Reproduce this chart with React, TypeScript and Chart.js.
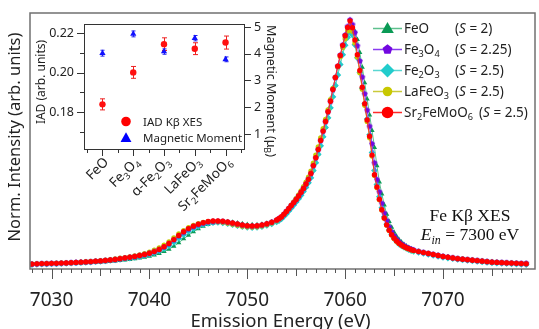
import React, { useEffect, useRef } from "react";
import { Chart, registerables } from "chart.js";
Chart.register(...registerables);

// ---------- main spectrum data ----------
const energy = [
  7028, 7028.5, 7029, 7029.5, 7030, 7030.5, 7031, 7031.5, 7032, 7032.5,
  7033, 7033.5, 7034, 7034.5, 7035, 7035.5, 7036, 7036.5, 7037, 7037.5,
  7038, 7038.5, 7039, 7039.5, 7040, 7040.5, 7041, 7041.5, 7042, 7042.5,
  7043, 7043.5, 7044, 7044.5, 7045, 7045.5, 7046, 7046.5, 7047, 7047.5,
  7048, 7048.5, 7049, 7049.5, 7050, 7050.5, 7051, 7051.5, 7052, 7052.5,
  7053,
  7053.25, 7053.5, 7053.75, 7054, 7054.25, 7054.5, 7054.75, 7055, 7055.25, 7055.5,
  7055.75, 7056, 7056.25, 7056.5, 7056.75, 7057, 7057.25, 7057.5, 7057.75, 7058,
  7058.25, 7058.5, 7058.75, 7059, 7059.25, 7059.5, 7059.75, 7060, 7060.25, 7060.5,
  7060.75, 7061, 7061.25, 7061.5, 7061.75, 7062, 7062.25, 7062.5, 7062.75, 7063,
  7063.25, 7063.5, 7063.75, 7064, 7064.25, 7064.5, 7064.75, 7065, 7065.25, 7065.5,
  7065.75, 7066, 7066.25, 7066.5, 7066.75, 7067,
  7067.5, 7068, 7068.5, 7069, 7069.5, 7070, 7070.5, 7071, 7071.5, 7072,
  7072.5, 7073, 7073.5, 7074, 7074.5, 7075, 7075.5, 7076, 7076.5, 7077,
  7077.5, 7078, 7078.5,
];

const sr2FeMoO6 = [
  0.000, 0.001, 0.002, 0.002, 0.003, 0.003, 0.004, 0.005, 0.006, 0.007,
  0.008, 0.009, 0.010, 0.012, 0.013, 0.015, 0.017, 0.019, 0.022, 0.025,
  0.028, 0.031, 0.035, 0.039, 0.044, 0.051, 0.060, 0.071, 0.084, 0.100,
  0.117, 0.132, 0.145, 0.155, 0.163, 0.169, 0.174, 0.176, 0.176, 0.175,
  0.172, 0.168, 0.164, 0.160, 0.157, 0.156, 0.157, 0.160, 0.165, 0.171,
  0.180,
  0.186, 0.193, 0.204, 0.215, 0.227, 0.239, 0.251, 0.264, 0.278, 0.293,
  0.309, 0.327, 0.346, 0.370, 0.402, 0.434, 0.468, 0.505, 0.543, 0.582,
  0.622, 0.665, 0.713, 0.762, 0.808, 0.852, 0.893, 0.932, 0.966, 0.993,
  0.965, 0.915, 0.855, 0.790, 0.722, 0.655, 0.588, 0.522, 0.445, 0.365,
  0.315, 0.265, 0.222, 0.188, 0.160, 0.138, 0.120, 0.106, 0.094, 0.085,
  0.078, 0.072, 0.067, 0.063, 0.059, 0.056,
  0.051, 0.047, 0.043, 0.039, 0.035, 0.031, 0.028, 0.025, 0.022, 0.020,
  0.018, 0.016, 0.014, 0.012, 0.010, 0.008, 0.007, 0.006, 0.005, 0.004,
  0.003, 0.002, 0.001,
];

const fe3O4 = [
  0.000, 0.001, 0.002, 0.002, 0.003, 0.003, 0.004, 0.005, 0.006, 0.007,
  0.008, 0.009, 0.010, 0.012, 0.013, 0.015, 0.017, 0.019, 0.022, 0.025,
  0.028, 0.031, 0.035, 0.039, 0.044, 0.051, 0.059, 0.070, 0.083, 0.099,
  0.115, 0.130, 0.143, 0.153, 0.161, 0.167, 0.172, 0.174, 0.175, 0.174,
  0.171, 0.167, 0.163, 0.159, 0.156, 0.155, 0.156, 0.159, 0.164, 0.171,
  0.180,
  0.186, 0.193, 0.204, 0.215, 0.227, 0.239, 0.251, 0.264, 0.278, 0.293,
  0.309, 0.327, 0.346, 0.369, 0.401, 0.433, 0.467, 0.504, 0.542, 0.581,
  0.621, 0.664, 0.712, 0.761, 0.808, 0.853, 0.895, 0.935, 0.970, 0.997,
  0.978, 0.945, 0.891, 0.829, 0.763, 0.695, 0.628, 0.562, 0.491, 0.413,
  0.345, 0.295, 0.248, 0.208, 0.177, 0.151, 0.131, 0.115, 0.101, 0.091,
  0.082, 0.076, 0.070, 0.065, 0.061, 0.058,
  0.052, 0.048, 0.044, 0.040, 0.036, 0.032, 0.029, 0.026, 0.023, 0.021,
  0.019, 0.017, 0.015, 0.013, 0.011, 0.009, 0.008, 0.007, 0.006, 0.005,
  0.004, 0.003, 0.003,
];

const fe2O3 = [
  -0.002, -0.001, 0.000, 0.000, 0.001, 0.001, 0.002, 0.003, 0.004, 0.005,
  0.006, 0.007, 0.008, 0.010, 0.011, 0.013, 0.015, 0.017, 0.019, 0.022,
  0.025, 0.028, 0.031, 0.035, 0.040, 0.046, 0.054, 0.063, 0.075, 0.089,
  0.105, 0.120, 0.134, 0.145, 0.154, 0.161, 0.166, 0.169, 0.170, 0.168,
  0.165, 0.161, 0.157, 0.153, 0.150, 0.149, 0.150, 0.153, 0.158, 0.164,
  0.172,
  0.178, 0.185, 0.195, 0.205, 0.217, 0.229, 0.241, 0.254, 0.267, 0.281,
  0.297, 0.314, 0.332, 0.352, 0.382, 0.414, 0.448, 0.483, 0.520, 0.558,
  0.597, 0.638, 0.683, 0.729, 0.772, 0.815, 0.855, 0.893, 0.925, 0.947,
  0.935, 0.895, 0.842, 0.782, 0.718, 0.655, 0.592, 0.528, 0.456, 0.382,
  0.325, 0.275, 0.230, 0.193, 0.163, 0.139, 0.120, 0.105, 0.092, 0.082,
  0.075, 0.069, 0.064, 0.059, 0.055, 0.052,
  0.048, 0.044, 0.040, 0.036, 0.032, 0.028, 0.025, 0.022, 0.019, 0.017,
  0.015, 0.013, 0.011, 0.009, 0.007, 0.005, 0.004, 0.003, 0.002, 0.001,
  0.000, -0.001, -0.002,
];

const feO = [
  -0.001, 0.000, 0.001, 0.001, 0.002, 0.002, 0.003, 0.003, 0.004, 0.004,
  0.005, 0.006, 0.007, 0.008, 0.009, 0.010, 0.011, 0.013, 0.015, 0.017,
  0.019, 0.022, 0.025, 0.028, 0.032, 0.037, 0.043, 0.051, 0.061, 0.073,
  0.087, 0.103, 0.118, 0.132, 0.144, 0.154, 0.162, 0.168, 0.172, 0.173,
  0.173, 0.171, 0.168, 0.165, 0.162, 0.161, 0.161, 0.163, 0.167, 0.172,
  0.179,
  0.184, 0.191, 0.200, 0.210, 0.221, 0.233, 0.245, 0.257, 0.270, 0.284,
  0.299, 0.316, 0.334, 0.355, 0.385, 0.416, 0.449, 0.484, 0.521, 0.559,
  0.598, 0.639, 0.684, 0.730, 0.775, 0.818, 0.858, 0.897, 0.932, 0.955,
  0.962, 0.950, 0.917, 0.864, 0.804, 0.740, 0.674, 0.609, 0.545, 0.476,
  0.401, 0.335, 0.286, 0.241, 0.203, 0.174, 0.150, 0.130, 0.114, 0.100,
  0.090, 0.081, 0.074, 0.068, 0.063, 0.058,
  0.052, 0.047, 0.042, 0.038, 0.034, 0.030, 0.027, 0.024, 0.021, 0.018,
  0.016, 0.014, 0.012, 0.010, 0.008, 0.006, 0.005, 0.004, 0.003, 0.002,
  0.001, 0.000, -0.001,
];

const laFeO3 = [
  0.001, 0.002, 0.002, 0.003, 0.003, 0.004, 0.005, 0.005, 0.006, 0.007,
  0.008, 0.010, 0.011, 0.012, 0.014, 0.016, 0.018, 0.021, 0.024, 0.027,
  0.030, 0.034, 0.038, 0.043, 0.049, 0.057, 0.066, 0.078, 0.091, 0.107,
  0.123, 0.137, 0.149, 0.158, 0.165, 0.170, 0.173, 0.174, 0.173, 0.171,
  0.167, 0.163, 0.159, 0.155, 0.152, 0.151, 0.152, 0.156, 0.161, 0.168,
  0.177,
  0.184, 0.192, 0.203, 0.215, 0.228, 0.241, 0.254, 0.268, 0.283, 0.299,
  0.316, 0.335, 0.355, 0.380, 0.412, 0.445, 0.479, 0.515, 0.553, 0.591,
  0.630, 0.672, 0.717, 0.762, 0.805, 0.846, 0.884, 0.920, 0.952, 0.974,
  0.950, 0.903, 0.845, 0.781, 0.714, 0.648, 0.582, 0.516, 0.441, 0.362,
  0.312, 0.263, 0.221, 0.187, 0.159, 0.137, 0.119, 0.105, 0.093, 0.084,
  0.077, 0.071, 0.066, 0.062, 0.058, 0.055,
  0.052, 0.048, 0.044, 0.040, 0.036, 0.032, 0.029, 0.026, 0.023, 0.021,
  0.019, 0.017, 0.015, 0.013, 0.011, 0.009, 0.008, 0.007, 0.006, 0.005,
  0.004, 0.003, 0.003,
];

const xTickLabels = [7030, 7040, 7050, 7060, 7070];
const legendNames = ["FeO", "Fe_3O_4", "Fe_2O_3", "LaFeO_3", "Sr_2FeMoO_6"];
const legendSpins = ["2", "2.25", "2.5", "2.5", "2.5"];

// ---------- inset data ----------
const insetCategories = ["FeO", "Fe_3O_4", "α-Fe_2O_3", "LaFeO_3", "Sr_2FeMoO_6"];
const iadValues = [0.1839, 0.2001, 0.2144, 0.2121, 0.2152];
const iadErrors = [0.0028, 0.0030, 0.0032, 0.0030, 0.0033];
const momentValues = [4.02, 4.74, 4.08, 4.58, 3.79];
const momentErrors = [0.11, 0.11, 0.1, 0.1, 0.09];
const iadMajorTicks = [0.18, 0.2, 0.22];
const iadMinorTicks = [0.17, 0.19, 0.21];
const momentTicks = [1, 2, 3, 4, 5];

const SANS = "'Noto Sans', sans-serif";
const SERIF = "'Liberation Serif', serif";

type Seg = { t: string; sub: boolean; it: boolean };
function parseRich(s: string): Seg[] {
  const segs: Seg[] = [];
  let it = false;
  let i = 0;
  let buf = "";
  const flush = () => {
    if (buf) {
      segs.push({ t: buf, sub: false, it });
      buf = "";
    }
  };
  while (i < s.length) {
    const c = s[i];
    if (c === "*") {
      flush();
      it = !it;
      i++;
      continue;
    }
    if (c === "_") {
      flush();
      let t = "";
      if (s[i + 1] === "{") {
        const j = s.indexOf("}", i + 2);
        t = s.slice(i + 2, j);
        i = j + 1;
      } else {
        t = s[i + 1];
        i += 2;
      }
      segs.push({ t, sub: true, it });
      continue;
    }
    buf += c;
    i++;
  }
  flush();
  return segs;
}

function richWidth(ctx: CanvasRenderingContext2D, s: string, size: number, family: string) {
  let w = 0;
  for (const sg of parseRich(s)) {
    const sz = sg.sub ? size * 0.68 : size;
    ctx.font = `${sg.it ? "italic " : ""}${sz}px ${family}`;
    w += ctx.measureText(sg.t).width;
  }
  return w;
}

function drawRich(
  ctx: CanvasRenderingContext2D,
  s: string,
  x: number,
  y: number,
  size: number,
  family: string,
  color: string,
  align: "left" | "right" | "center" = "left"
) {
  const w = richWidth(ctx, s, size, family);
  let cx = align === "left" ? x : align === "right" ? x - w : x - w / 2;
  ctx.save();
  ctx.fillStyle = color;
  ctx.textAlign = "left";
  ctx.textBaseline = "alphabetic";
  for (const sg of parseRich(s)) {
    const sz = sg.sub ? size * 0.68 : size;
    ctx.font = `${sg.it ? "italic " : ""}${sz}px ${family}`;
    ctx.fillText(sg.t, cx, sg.sub ? y + size * 0.24 : y);
    cx += ctx.measureText(sg.t).width;
  }
  ctx.restore();
  return w;
}

function shapePath(ctx: CanvasRenderingContext2D, shape: string, x: number, y: number, r: number) {
  ctx.beginPath();
  if (shape === "circle") {
    ctx.arc(x, y, r, 0, Math.PI * 2);
  } else if (shape === "triangle") {
    ctx.moveTo(x, y - r * 1.1);
    ctx.lineTo(x + r * 1.05, y + r * 0.75);
    ctx.lineTo(x - r * 1.05, y + r * 0.75);
    ctx.closePath();
  } else if (shape === "diamond") {
    ctx.moveTo(x, y - r);
    ctx.lineTo(x + r, y);
    ctx.lineTo(x, y + r);
    ctx.lineTo(x - r, y);
    ctx.closePath();
  } else if (shape === "pentagon") {
    for (let k = 0; k < 5; k++) {
      const a = -Math.PI / 2 + (k * 2 * Math.PI) / 5;
      const px = x + r * Math.cos(a);
      const py = y + r * Math.sin(a);
      if (k === 0) ctx.moveTo(px, py);
      else ctx.lineTo(px, py);
    }
    ctx.closePath();
  }
}

function makePentagon(r: number, fill: string) {
  const c = document.createElement("canvas");
  const s = Math.ceil(r * 2 + 2);
  c.width = s;
  c.height = s;
  const g = c.getContext("2d")!;
  g.fillStyle = fill;
  shapePath(g, "pentagon", s / 2, s / 2, r);
  g.fill();
  return c;
}

const seriesStyle = [
  { shape: "triangle", marker: "#0a9a55", line: "#5ec08e", r: 3.0, lr: 6 },
  { shape: "pentagon", marker: "#7208e0", line: "#8a3cf0", r: 3.0, lr: 5.2 },
  { shape: "diamond", marker: "#22cccc", line: "#5ad6d2", r: 3.2, lr: 7 },
  { shape: "circle", marker: "#c8c800", line: "#caca3a", r: 2.6, lr: 4.8 },
  { shape: "circle", marker: "#ff0000", line: "#ff2a2a", r: 2.7, lr: 5.8 },
];

export default function App() {
  const mainRef = useRef<HTMLCanvasElement>(null);
  const insetRef = useRef<HTMLCanvasElement>(null);

  useEffect(() => {
    const seriesData = [feO, fe3O4, fe2O3, laFeO3, sr2FeMoO6];
    const pent = makePentagon(3.0, seriesStyle[1].marker);
    const pointStyleOf = (s: string) =>
      s === "triangle" ? "triangle" : s === "diamond" ? "rectRot" : s === "pentagon" ? pent : "circle";

    const datasets = seriesData.map((vals, i) => {
      const st = seriesStyle[i];
      return {
        label: legendNames[i],
        data: energy.map((e, k) => ({ x: e, y: vals[k] })),
        borderColor: st.line,
        borderWidth: 1,
        pointRadius: st.shape === "diamond" ? 3.4 : st.r,
        pointStyle: pointStyleOf(st.shape) as any,
        pointBackgroundColor: st.marker,
        pointBorderColor: st.marker,
        pointBorderWidth: 0,
        tension: 0,
        fill: false,
        // draw red on top, then purple, yellow, cyan, green
        order: [4, 1, 3, 2, 0][i],
      };
    });

    const mainPlugin = {
      id: "mainDecor",
      afterDraw(chart: any) {
        const ctx: CanvasRenderingContext2D = chart.ctx;
        const a = chart.chartArea;
        const xs = chart.scales.x;
        ctx.save();
        // frame
        ctx.strokeStyle = "#707070";
        ctx.lineWidth = 1.5;
        ctx.strokeRect(a.left, a.top, a.right - a.left, a.bottom - a.top);
        // ticks
        ctx.strokeStyle = "#555";
        ctx.lineWidth = 1;
        for (let v = 7028; v <= 7078; v++) {
          const px = Math.round(xs.getPixelForValue(v)) + 0.5;
          const len = v % 10 === 0 ? 10 : v % 5 === 0 ? 7 : 4;
          ctx.beginPath();
          ctx.moveTo(px, a.bottom);
          ctx.lineTo(px, a.bottom + len);
          ctx.stroke();
        }
        // tick labels
        ctx.fillStyle = "#222";
        ctx.font = `19px ${SANS}`;
        ctx.textAlign = "center";
        ctx.textBaseline = "alphabetic";
        for (const t of xTickLabels) {
          ctx.fillText(String(t), xs.getPixelForValue(t), 306);
        }
        // axis titles
        ctx.font = `18.5px ${SANS}`;
        ctx.fillText("Emission Energy (eV)", (a.left + a.right) / 2 - 2, 327);
        ctx.save();
        ctx.translate(15, 137);
        ctx.rotate(-Math.PI / 2);
        ctx.textBaseline = "middle";
        ctx.font = `16.5px ${SANS}`;
        ctx.fillText("Norm. Intensity (arb. units)", 0, 0);
        ctx.restore();
        // annotation
        drawRich(ctx, "Fe Kβ XES", 470, 221, 17.5, SERIF, "#111", "center");
        drawRich(ctx, "*E_{in}* = 7300 eV", 470, 240, 17.5, SERIF, "#111", "center");
        // legend
        const rows = [28, 49, 70, 91, 112];
        for (let i = 0; i < 5; i++) {
          const st = seriesStyle[i];
          const y = rows[i];
          ctx.strokeStyle = st.line;
          ctx.lineWidth = 1.5;
          ctx.beginPath();
          ctx.moveTo(373, y + 0.5);
          ctx.lineTo(402, y + 0.5);
          ctx.stroke();
          ctx.fillStyle = st.marker;
          shapePath(ctx, st.shape, 387.5, y + 0.5, st.lr);
          ctx.fill();
          const w = drawRich(ctx, legendNames[i], 404, y + 5, 13.5, SANS, "#222", "left");
          const sx = Math.max(455, 404 + w + 6);
          drawRich(ctx, `(*S* = ${legendSpins[i]})`, sx, y + 5, 13.5, SANS, "#222", "left");
        }
        ctx.restore();
      },
    };

    const main = new Chart(mainRef.current!, {
      type: "line",
      data: { datasets: datasets as any },
      options: {
        responsive: false,
        animation: false,
        devicePixelRatio: 1,
        events: [],
        layout: { padding: { left: 30, top: 13, right: 1, bottom: 60 } },
        plugins: { legend: { display: false }, tooltip: { enabled: false } },
        scales: {
          x: { type: "linear", min: 7027.8, max: 7079.4, display: false },
          y: { type: "linear", min: -0.02, max: 1.025, display: false },
        },
      },
      plugins: [mainPlugin],
    });

    const insetPlugin = {
      id: "insetDecor",
      beforeDatasetsDraw(chart: any) {
        const ctx: CanvasRenderingContext2D = chart.ctx;
        const xs = chart.scales.x;
        const yl = chart.scales.yL;
        const yr = chart.scales.yR;
        ctx.save();
        ctx.lineWidth = 1;
        for (let i = 0; i < 5; i++) {
          const px = Math.round(xs.getPixelForValue(i)) + 0.5;
          // red error bars
          ctx.strokeStyle = "#ee2020";
          let y1 = yl.getPixelForValue(iadValues[i] + iadErrors[i]);
          let y2 = yl.getPixelForValue(iadValues[i] - iadErrors[i]);
          ctx.beginPath();
          ctx.moveTo(px, y1);
          ctx.lineTo(px, y2);
          ctx.moveTo(px - 2.5, y1);
          ctx.lineTo(px + 2.5, y1);
          ctx.moveTo(px - 2.5, y2);
          ctx.lineTo(px + 2.5, y2);
          ctx.stroke();
          // blue error bars
          ctx.strokeStyle = "#2020ee";
          y1 = yr.getPixelForValue(momentValues[i] + momentErrors[i]);
          y2 = yr.getPixelForValue(momentValues[i] - momentErrors[i]);
          ctx.beginPath();
          ctx.moveTo(px, y1);
          ctx.lineTo(px, y2);
          ctx.moveTo(px - 2, y1);
          ctx.lineTo(px + 2, y1);
          ctx.moveTo(px - 2, y2);
          ctx.lineTo(px + 2, y2);
          ctx.stroke();
        }
        ctx.restore();
      },
      afterDraw(chart: any) {
        const ctx: CanvasRenderingContext2D = chart.ctx;
        const a = chart.chartArea;
        const xs = chart.scales.x;
        const yl = chart.scales.yL;
        const yr = chart.scales.yR;
        ctx.save();
        ctx.strokeStyle = "#333";
        ctx.lineWidth = 1;
        ctx.strokeRect(a.left + 0.5, a.top + 0.5, a.right - a.left, a.bottom - a.top);
        ctx.beginPath();
        for (const t of iadMajorTicks) {
          const py = Math.round(yl.getPixelForValue(t)) + 0.5;
          ctx.moveTo(a.left - 7, py);
          ctx.lineTo(a.left, py);
        }
        for (const t of iadMinorTicks) {
          const py = Math.round(yl.getPixelForValue(t)) + 0.5;
          ctx.moveTo(a.left - 4, py);
          ctx.lineTo(a.left, py);
        }
        for (const t of momentTicks) {
          const py = Math.round(yr.getPixelForValue(t)) + 0.5;
          ctx.moveTo(a.right + 1, py);
          ctx.lineTo(a.right + 7, py);
        }
        for (let i = 0; i < 5; i++) {
          const px = Math.round(xs.getPixelForValue(i)) + 0.5;
          ctx.moveTo(px, a.bottom + 1);
          ctx.lineTo(px, a.bottom + 7);
        }
        for (let i = -0.5; i < 5; i += 1) {
          const px = Math.round(xs.getPixelForValue(i)) + 0.5;
          ctx.moveTo(px, a.bottom + 1);
          ctx.lineTo(px, a.bottom + 4);
        }
        ctx.stroke();

        ctx.fillStyle = "#222";
        ctx.font = `12.5px ${SANS}`;
        ctx.textBaseline = "middle";
        ctx.textAlign = "right";
        for (const t of iadMajorTicks) {
          ctx.fillText(t.toFixed(2), a.left - 10, yl.getPixelForValue(t));
        }
        ctx.textAlign = "left";
        for (const t of momentTicks) {
          ctx.fillText(String(t), a.right + 10, yr.getPixelForValue(t));
        }
        // category labels rotated
        for (let i = 0; i < 5; i++) {
          const px = xs.getPixelForValue(i);
          ctx.save();
          ctx.translate(px + 4, a.bottom + 11);
          ctx.rotate(-Math.PI / 4);
          drawRich(ctx, insetCategories[i], 0, 4, 13.5, SANS, "#222", "right");
          ctx.restore();
        }
        // axis titles
        ctx.save();
        ctx.translate(41, 82);
        ctx.rotate(-Math.PI / 2);
        drawRich(ctx, "IAD (arb. units)", 0, 4, 12, SANS, "#222", "center");
        ctx.restore();
        ctx.save();
        ctx.translate(271, 91);
        ctx.rotate(Math.PI / 2);
        drawRich(ctx, "Magnetic Moment (μ_B)", 0, 4, 12.5, SANS, "#222", "center");
        ctx.restore();
        // legend
        ctx.fillStyle = "#ff0000";
        shapePath(ctx, "circle", 126, 121.5, 4.8);
        ctx.fill();
        ctx.fillStyle = "#0000ff";
        shapePath(ctx, "triangle", 126, 138, 5.2);
        ctx.fill();
        drawRich(ctx, "IAD Kβ XES", 143, 126, 11.5, SANS, "#222", "left");
        drawRich(ctx, "Magnetic Moment", 143, 142, 11.5, SANS, "#222", "left");
        ctx.restore();
      },
    };

    const inset = new Chart(insetRef.current!, {
      type: "scatter",
      data: {
        datasets: [
          {
            label: "IAD Kβ XES",
            data: iadValues.map((v, i) => ({ x: i, y: v })),
            yAxisID: "yL",
            pointStyle: "circle",
            pointRadius: 3.2,
            pointBackgroundColor: "#ff1010",
            pointBorderWidth: 0,
            showLine: false,
          },
          {
            label: "Magnetic Moment",
            data: momentValues.map((v, i) => ({ x: i, y: v })),
            yAxisID: "yR",
            pointStyle: "triangle",
            pointRadius: 3.6,
            pointBackgroundColor: "#1010ff",
            pointBorderWidth: 0,
            showLine: false,
          },
        ] as any,
      },
      options: {
        responsive: false,
        animation: false,
        devicePixelRatio: 1,
        events: [],
        layout: { padding: { left: 84, top: 24, right: 56, bottom: 66 } },
        plugins: { legend: { display: false }, tooltip: { enabled: false } },
        scales: {
          x: { type: "linear", min: -0.6, max: 4.6, display: false },
          yL: { type: "linear", position: "left", min: 0.1613, max: 0.2246, display: false },
          yR: { type: "linear", position: "right", min: 0.44, max: 5.11, display: false },
        },
      },
      plugins: [insetPlugin],
    });

    return () => {
      main.destroy();
      inset.destroy();
    };
  }, []);

  return (
    <div style={{ position: "fixed", left: 0, top: 0, width: 539, height: 329, background: "#fff", overflow: "hidden" }}>
      <canvas ref={mainRef} width={539} height={329} style={{ position: "absolute", left: 0, top: 0 }} />
      <canvas ref={insetRef} width={300} height={215} style={{ position: "absolute", left: 0, top: 0 }} />
    </div>
  );
}
